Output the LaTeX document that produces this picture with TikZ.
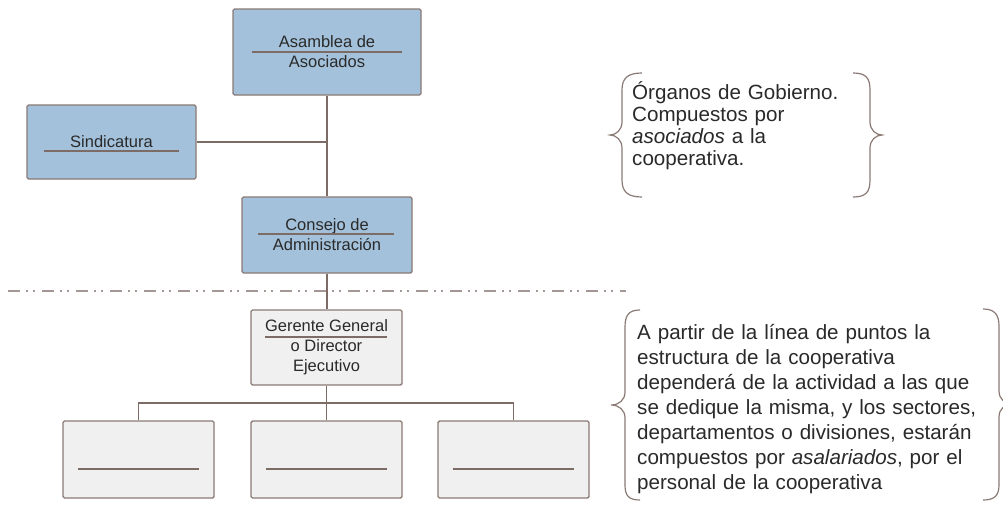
\documentclass[tikz,border=0pt]{standalone}
\usepackage{fontspec}
\setmainfont{Liberation Sans}
\definecolor{boxblue}{HTML}{A3C1DA}
\definecolor{boxgray}{HTML}{F0F0F0}
\definecolor{edge}{HTML}{8A7A75}
\definecolor{conn}{HTML}{7D6B65}
\definecolor{txt}{HTML}{2A2A2A}
\definecolor{dashc}{HTML}{A39893}
\begin{document}
\begin{tikzpicture}[x=1pt,y=-1pt,
  orgbox/.style={draw=edge, line width=1.4pt, rounded corners=1.5pt, inner sep=0pt,
    align=center, text=txt, font=\fontsize{16.5}{20}\selectfont},
  bluebox/.style={orgbox, fill=boxblue},
  graybox/.style={orgbox, fill=boxgray},
  sepline/.style={draw=conn, line width=1.3pt},
  connector/.style={draw=conn, line width=1.4pt},
  bracestyle/.style={draw=edge, line width=1.2pt},
  dashline/.style={draw=dashc, line width=2pt, dash pattern=on 12pt off 6pt on 2pt off 5pt on 2pt off 7pt},
  note/.style={inner sep=0pt, text=txt, align=left, anchor=base west}
]
\useasboundingbox (0,0) rectangle (1003,506);
\clip (0,0) rectangle (1003,506);
\fill[white] (0,0) rectangle (1003,506);

% boxes
\node[bluebox, minimum width=188pt, minimum height=86pt] (asamblea) at (327,52) {Asamblea de\\Asociados};
\node[bluebox, minimum width=169pt, minimum height=74pt] (sind) at (111.5,142) {Sindicatura};
\node[bluebox, minimum width=170pt, minimum height=76pt] (consejo) at (327,235) {Consejo de\\Administración};
\node[graybox, minimum width=151pt, minimum height=75pt] (gerente) at (326.5,347.5) {Gerente General\\o Director\\Ejecutivo};
\node[graybox, minimum width=151pt, minimum height=77pt] (b1) at (138.5,459.5) {};
\node[graybox, minimum width=151pt, minimum height=77pt] (b2) at (326.5,459.5) {};
\node[graybox, minimum width=151pt, minimum height=77pt] (b3) at (513.5,459.5) {};

% separator lines inside boxes
\draw[sepline] (252,52) -- (402,52);
\draw[sepline] (44,151) -- (179,151);
\draw[sepline] (258,234) -- (394,234);
\draw[sepline] (265,337) -- (387,337);
\foreach \b in {b1,b2,b3}{
  \draw[sepline] ([xshift=-60.5pt,yshift=-9.5pt]\b.center) -- ([xshift=60.5pt,yshift=-9.5pt]\b.center);
}

% connectors
\draw[connector] (asamblea.south) -- (asamblea.south |- consejo.north);
\draw[connector] (sind.east) -- (sind.east -| asamblea.south);
\draw[connector] (consejo.south) -- (consejo.south |- gerente.north);
\coordinate (j) at (326.5,403);
\draw[connector] (gerente.south) -- (j);
\draw[connector] (b1.north) -- (b1.north |- j) -- (b3.north |- j) -- (b3.north);
\draw[connector] (b2.north) -- (b2.north |- j);

% dash-dot-dot line
\coordinate (dl) at (8,291);
\coordinate (dr) at (626,291);
\draw[dashline] (dl) -- (dr);

% notes
\node[note, text width=240pt, font=\fontsize{20.6}{22.3}\selectfont] (note1) at (632,99)
  {Órganos de Gobierno.\\Compuestos por\\\textit{asociados} a la\\cooperativa.};
\node[note, text width=360pt, font=\fontsize{20.6}{25}\selectfont] (note2) at (637,339)
  {A partir de la línea de puntos la\\estructura de la cooperativa\\dependerá de la actividad a las que\\se dedique la misma, y los sectores,\\departamentos o divisiones, estarán\\compuestos por \textit{asalariados}, por el\\personal de la cooperativa};

% braces
\draw[bracestyle] (642,73) .. controls (628,73) and (622,78) .. (622,90) -- (622,122)
  .. controls (622,130) and (616,135) .. (610,135)
  .. controls (616,135) and (622,140) .. (622,148) -- (622,180)
  .. controls (622,192) and (628,197) .. (642,197);
\draw[bracestyle] (853,73) .. controls (866,73) and (870,78) .. (870,90) -- (870,122)
  .. controls (870,130) and (876,135) .. (882,135)
  .. controls (876,135) and (870,140) .. (870,148) -- (870,180)
  .. controls (870,192) and (866,197) .. (853,197);
\draw[bracestyle] (640,310) .. controls (629,310) and (625,315) .. (625,327) -- (625,392)
  .. controls (625,400) and (619,405) .. (611,405)
  .. controls (619,405) and (625,410) .. (625,418) -- (625,485)
  .. controls (625,496) and (629,500) .. (640,500);
\draw[bracestyle] (983,309) .. controls (994,309) and (999,314) .. (999,326) -- (999,391)
  .. controls (999,399) and (1005,404) .. (1012,404)
  .. controls (1005,404) and (999,409) .. (999,417) -- (999,485)
  .. controls (999,496) and (994,500) .. (983,500);
\end{tikzpicture}
\end{document}
